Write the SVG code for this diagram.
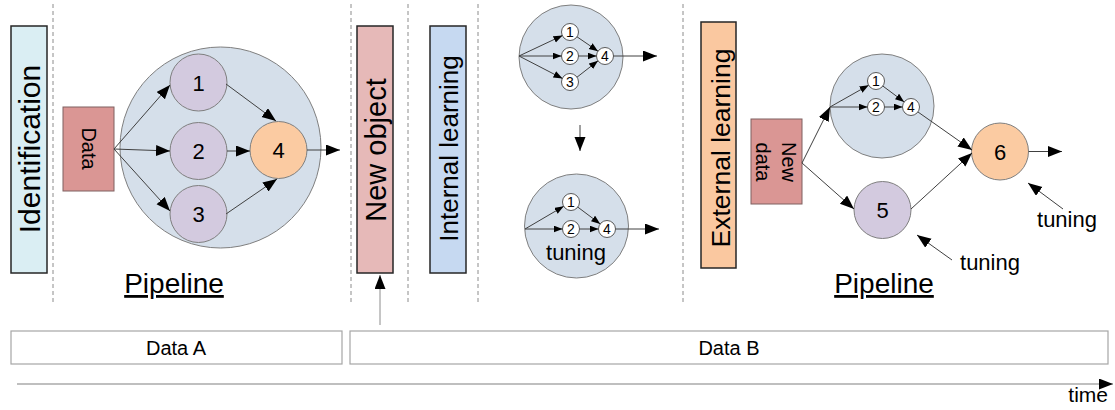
<svg xmlns="http://www.w3.org/2000/svg" width="1115" height="410" viewBox="0 0 1115 410">
<defs>
<style>
text{font-family:"Liberation Sans",Arial,sans-serif;fill:#000}
.dash{stroke:#8c8c8c;stroke-width:1;stroke-dasharray:4,3;fill:none}
.stage{stroke:#262626;stroke-width:1.5}
.data{fill:#da9694;stroke:#7f6060;stroke-width:1}
.big{fill:#d5dfea;stroke:#7f7f7f;stroke-width:1}
.purple{fill:#d3cadf;stroke:#7f7f7f;stroke-width:1}
.orange{fill:#fbcba2;stroke:#7f7f7f;stroke-width:1}
.small{fill:#fff;stroke:#595959;stroke-width:1}
.cl{stroke:#404040;stroke-width:1;fill:none;marker-end:url(#big)}
.cs{stroke:#404040;stroke-width:1;fill:none;marker-end:url(#sm)}
.bar{fill:#fff;stroke:#a6a6a6;stroke-width:1.2}
.num{font-size:22px;text-anchor:middle}
.sn{font-size:14px;text-anchor:middle}
.vt{text-anchor:middle}
</style>
<marker id="big" markerUnits="userSpaceOnUse" markerWidth="15" markerHeight="12" refX="14" refY="5.5" orient="auto"><path d="M0,0 L14,5.5 L0,11 z" fill="#000"/></marker>
<marker id="sm" markerUnits="userSpaceOnUse" markerWidth="10" markerHeight="8" refX="9" refY="3.5" orient="auto"><path d="M0,0 L9,3.5 L0,7 z" fill="#000"/></marker>
</defs>

<g id="separators">
<line class="dash" x1="53" y1="4" x2="53" y2="303"/>
<line class="dash" x1="351" y1="4" x2="351" y2="303"/>
<line class="dash" x1="408" y1="4" x2="408" y2="303"/>
<line class="dash" x1="478" y1="4" x2="478" y2="303"/>
<line class="dash" x1="683" y1="4" x2="683" y2="303"/>
</g>

<g id="identification">
<rect class="stage" x="11" y="26" width="36" height="247" fill="#daeef3"/>
<text class="vt" font-size="30" transform="translate(40,149) rotate(-90)">Identification</text>
</g>

<g id="new-object">
<rect class="stage" x="357" y="26" width="36" height="247" fill="#e6b9b8"/>
<text class="vt" font-size="29" transform="translate(386,150) rotate(-90)">New object</text>
</g>

<g id="internal-learning">
<rect class="stage" x="430" y="26" width="36" height="247" fill="#c6d9f1"/>
<text class="vt" font-size="26" transform="translate(458,148.5) rotate(-90)">Internal learning</text>
</g>

<g id="external-learning">
<rect class="stage" x="701" y="22" width="35" height="246" fill="#fac8a0"/>
<text class="vt" font-size="26.5" transform="translate(730,148) rotate(-90)">External learning</text>
</g>

<g id="pipeline-a">
<circle class="big" cx="220.5" cy="147.5" r="100.5"/>
</g>
<g id="data">
<rect class="data" x="63" y="107" width="51" height="84"/>
<text class="vt" font-size="20" transform="translate(82,148.5) rotate(90)">Data</text>
</g>
<g id="node-a1"><circle class="purple" cx="198.5" cy="82.5" r="28.5"/><text class="num" x="198.5" y="90.5">1</text></g>
<g id="node-a2"><circle class="purple" cx="198.5" cy="151" r="28.5"/><text class="num" x="198.5" y="159">2</text></g>
<g id="node-a3"><circle class="purple" cx="198.5" cy="214" r="28.5"/><text class="num" x="198.5" y="222">3</text></g>
<g id="node-a4"><circle class="orange" cx="278.5" cy="150" r="28.5"/><text class="num" x="278.5" y="158">4</text></g>
<text id="pipeline-a-label" x="174" y="293" font-size="28" text-anchor="middle" text-decoration="underline">Pipeline</text>

<g id="internal-top">
<circle class="big" cx="571" cy="57" r="52"/>
<g id="it1"><circle class="small" cx="570" cy="32" r="8.5"/><text class="sn" x="570" y="37">1</text></g>
<g id="it2"><circle class="small" cx="570" cy="56" r="8.5"/><text class="sn" x="570" y="61">2</text></g>
<g id="it3"><circle class="small" cx="570" cy="82" r="8.5"/><text class="sn" x="570" y="87">3</text></g>
<g id="it4"><circle class="small" cx="605" cy="56" r="8.5"/><text class="sn" x="605" y="61">4</text></g>
</g>

<g id="internal-bottom">
<circle class="big" cx="576.5" cy="226" r="52"/>
<g id="ib1"><circle class="small" cx="571" cy="202" r="8.5"/><text class="sn" x="571" y="207">1</text></g>
<g id="ib2"><circle class="small" cx="571" cy="229" r="8.5"/><text class="sn" x="571" y="234">2</text></g>
<g id="ib4"><circle class="small" cx="607" cy="229" r="8.5"/><text class="sn" x="607" y="234">4</text></g>
<text x="576" y="260" font-size="22" text-anchor="middle">tuning</text>
</g>

<g id="external-pipeline">
<circle class="big" cx="882" cy="106" r="52"/>
<g id="eb1"><circle class="small" cx="876" cy="81" r="8.5"/><text class="sn" x="876" y="86">1</text></g>
<g id="eb2"><circle class="small" cx="876" cy="107" r="8.5"/><text class="sn" x="876" y="112">2</text></g>
<g id="eb4"><circle class="small" cx="911" cy="107" r="8.5"/><text class="sn" x="911" y="112">4</text></g>
</g>
<g id="new-data">
<rect class="data" x="751" y="119" width="51" height="85"/>
<text class="vt" font-size="20" transform="translate(782,162) rotate(90)">New</text>
<text class="vt" font-size="20" transform="translate(756,162) rotate(90)">data</text>
</g>
<g id="node-5"><circle class="purple" cx="882.5" cy="210" r="28.5"/><text class="num" x="882.5" y="218">5</text></g>
<g id="node-6"><circle class="orange" cx="1000" cy="151.5" r="28.5"/><text class="num" x="1000" y="159.5">6</text></g>
<text id="tuning-6" x="1067" y="227" font-size="22" text-anchor="middle">tuning</text>
<text id="tuning-5" x="990" y="270" font-size="22" text-anchor="middle">tuning</text>
<text id="pipeline-b-label" x="884" y="293" font-size="28" text-anchor="middle" text-decoration="underline">Pipeline</text>

<g id="timeline">
<rect class="bar" x="11" y="331" width="331" height="33"/>
<text x="176" y="355" font-size="20" text-anchor="middle">Data A</text>
<rect class="bar" x="350" y="331" width="758" height="33"/>
<text x="729" y="355" font-size="20" text-anchor="middle">Data B</text>
<text x="1108" y="402" font-size="21" text-anchor="end">time</text>
</g>

<g id="connectors">
<line class="cl" x1="114" y1="149" x2="170" y2="85"/>
<line class="cl" x1="114" y1="149" x2="170" y2="151"/>
<line class="cl" x1="114" y1="149" x2="170" y2="211"/>
<line class="cl" x1="226" y1="84" x2="276" y2="121"/>
<line class="cl" x1="227" y1="151" x2="250" y2="151"/>
<line class="cl" x1="226" y1="214" x2="277" y2="179"/>
<line class="cl" x1="307" y1="150" x2="340" y2="150"/>
<line x1="380" y1="325" x2="380" y2="275" stroke="#8c8c8c" stroke-width="1" marker-end="url(#big)"/>
<line class="cs" x1="519" y1="56" x2="562.5" y2="35.5"/>
<line class="cs" x1="519" y1="56" x2="561.5" y2="56"/>
<line class="cs" x1="519" y1="56" x2="562.5" y2="78.5"/>
<line class="cs" x1="577" y1="36.8" x2="598" y2="51.2"/>
<line class="cs" x1="578.5" y1="56" x2="596.5" y2="56"/>
<line class="cs" x1="577" y1="77.2" x2="598" y2="60.8"/>
<line class="cl" x1="613.5" y1="56" x2="657" y2="56"/>
<line class="cl" x1="580" y1="125" x2="580" y2="151"/>
<line class="cs" x1="525" y1="229" x2="563.7" y2="206.3"/>
<line class="cs" x1="525" y1="229" x2="562.5" y2="229"/>
<line class="cs" x1="577.8" y1="207.1" x2="600.2" y2="223.9"/>
<line class="cs" x1="579.5" y1="229" x2="598.5" y2="229"/>
<line class="cl" x1="615.5" y1="229" x2="659" y2="229"/>
<line class="cl" x1="802" y1="163" x2="830" y2="107"/>
<line class="cl" x1="802" y1="163" x2="854" y2="209"/>
<line class="cs" x1="830" y1="107" x2="868.6" y2="85.2"/>
<line class="cs" x1="830" y1="107" x2="867.5" y2="107"/>
<line class="cs" x1="882.8" y1="86" x2="904.2" y2="101.9"/>
<line class="cs" x1="884.5" y1="107" x2="902.5" y2="107"/>
<line class="cl" x1="918" y1="112" x2="972" y2="150"/>
<line class="cl" x1="911" y1="209" x2="972" y2="153"/>
<line class="cl" x1="1028.5" y1="151.5" x2="1062" y2="151.5"/>
<line class="cl" x1="1063" y1="209" x2="1028" y2="183"/>
<line class="cl" x1="952" y1="260" x2="917" y2="235"/>
<line x1="17" y1="384" x2="1113" y2="384" stroke="#808080" stroke-width="1.2" marker-end="url(#big)"/>
</g>
</svg>
